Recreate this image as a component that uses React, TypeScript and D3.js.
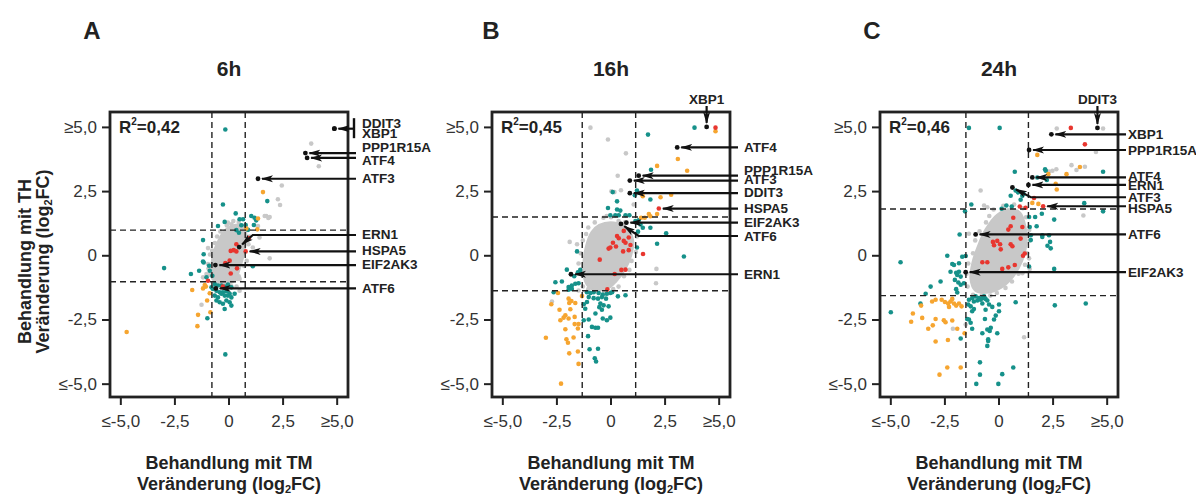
import * as d3 from "d3";

type P = [number, number];
type Gene = { name: string; x: number; y: number; ly?: number; bendX?: number; dot?: boolean; top?: boolean; noArrow?: boolean };

const AXIS_TICKS = [-5, -2.5, 0, 2.5, 5];
const TICK_LABELS = ["\u2264-5,0", "-2,5", "0", "2,5", "\u22655,0"];

const panelLetters = ["A", "B", "C"];
const panelTitles = ["6h", "16h", "24h"];
const rSquared = ["0,42", "0,45", "0,46"];
const cutX: P[] = [[-0.79, 0.75], [-1.33, 1.14], [-1.53, 1.36]];
const cutY: P[] = [[1.0, -1.01], [1.51, -1.36], [1.82, -1.55]];

// dense centre of each gray cloud (outline)
const coreA: P[] = [[-0.5, 0.58], [-0.2, 1.0], [0.26, 1.2], [0.68, 1.2], [0.8, 0.85], [0.72, 0.19], [0.5, -0.5], [0.24, -1.0], [-0.34, -1.06], [-0.76, -0.92], [-0.8, -0.27], [-0.66, 0.27]];
const coreB: P[] = [[-0.55, 1.2], [0.13, 1.3], [0.7, 1.1], [1.02, 0.62], [0.93, 0], [0.68, -0.5], [0.24, -1.0], [-0.2, -1.3], [-0.9, -1.3], [-1.2, -1.0], [-1.28, -0.39], [-1.15, 0.39], [-0.9, 0.92]];
const coreC: P[] = [[-0.09, 1.6], [0.56, 1.82], [0.98, 1.68], [1.22, 1.15], [1.26, 0.41], [1.05, -0.24], [0.65, -0.82], [0.09, -1.25], [-0.56, -1.44], [-1.1, -1.36], [-1.32, -0.9], [-1.22, -0.24], [-0.96, 0.41], [-0.62, 1.03]];

const grayA: P[] = [[3.8, 4.37], [4.15, 3.49], [2.44, 2.74], [2.26, 2.2], [2.36, 1.98], [1.72, 1.55], [1.82, 1.47], [1.65, 1.55], [1.88, 1.51], [1.34, 1.16], [1.88, -0.1], [-1.27, -1.91], [0.49, -1.36], [0.41, -0.9], [-0.05, 1.29], [0.11, 1.23], [-0.97, 0.3], [-1.2, -0.84], [-1.04, -0.71], [-0.97, -0.32], [0.49, -0.9], [1.1, 0.32], [1.41, 0.71], [-0.55, 0.75], [-0.4, 0.95], [-0.1, 1.18], [0.2, 1.35], [0.45, 1.32], [0.75, 1.15], [0.95, 0.75], [0.9, 0.45], [0.82, -0.2], [0.7, -0.4], [0.45, -0.8], [0.35, -1.2], [0.1, -1.18], [-0.2, -1.25], [-0.55, -1.05], [-0.88, -0.75], [-0.95, -0.5], [-0.88, 0.05], [-0.78, 0.2], [-0.65, 0.5]];
const tealA: P[] = [[-0.17, 4.92], [-0.28, 2.0], [1.77, 2.13], [0.31, 1.65], [-0.2, 1.32], [-0.51, 1.16], [0.49, 1.42], [0.65, 1.42], [1.03, 1.55], [1.18, 1.48], [1.26, 1.38], [1.15, 1.2], [0.77, 1.2], [0.57, 1.19], [0.34, 1.0], [0.88, 1.01], [0.46, 0.9], [-1.2, 0.61], [-1.17, 0.06], [-1.17, -0.26], [-1.2, -0.22], [-1.38, -0.58], [-1.76, -0.71], [-3.0, -0.48], [-0.92, -0.39], [-0.89, -0.58], [-1.04, -0.84], [-0.77, -0.78], [1.1, -0.41], [-0.66, -1.1], [-0.51, -1.16], [-0.35, -1.16], [-0.2, -1.2], [-0.05, -1.12], [0.11, -1.23], [-0.74, -1.29], [-0.58, -1.36], [-0.43, -1.42], [-0.28, -1.42], [-0.12, -1.38], [0.03, -1.48], [-0.66, -1.55], [-0.51, -1.62], [-0.35, -1.48], [-0.2, -1.55], [-0.05, -1.55], [0.11, -1.62], [0.26, -1.48], [-0.58, -1.74], [-0.43, -1.81], [-0.28, -1.87], [-0.12, -1.74], [0.03, -1.81], [0.11, -1.94], [-0.2, -2.07], [-0.81, -1.23], [-1.0, -2.43], [-0.17, -3.84]];
const orangeA: P[] = [[1.57, 2.48], [1.34, 1.45], [1.31, 1.03], [0.8, 1.06], [-1.12, -1.14], [-1.2, -1.27], [-1.07, -1.2], [-1.7, -1.33], [-0.89, -1.46], [-1.01, -1.74], [-0.86, -2.2], [-1.43, -2.3], [-1.46, -2.74], [-4.73, -2.97]];
const redA: P[] = [[0.34, 0.45], [0.22, 0.22], [0.34, 0.17], [0.08, 0.19], [0.77, 0.17], [0.92, 0.69], [0.03, -0.19], [0.37, -0.49], [-0.97, -0.97], [-0.28, -1.2], [0.08, -0.69], [-0.17, -0.28]];

const grayB: P[] = [[-0.95, 4.99], [-0.14, 4.53], [0.69, 3.99], [0.31, 3.12], [0.02, 2.51], [0.16, 2.48], [0.46, 2.55], [1.05, 2.0], [-1.91, 0.54], [-1.57, 0.45], [2.1, -0.51], [2.08, -1.07], [-2.73, -1.78], [-1.05, 1.1], [-0.75, 1.3], [-0.35, 1.48], [0.0, 1.5], [0.35, 1.35], [0.65, 1.3], [0.95, 0.95], [1.2, 0.75], [1.15, 0.15], [0.95, -0.2], [0.85, -0.55], [0.6, -0.8], [0.35, -1.2], [0.1, -1.3], [-0.3, -1.5], [-0.6, -1.42], [-1.05, -1.3], [-1.3, -1.2], [-1.42, -0.6], [-1.5, -0.3], [-1.4, 0.1], [-1.3, 0.6], [-1.15, 0.85], [-0.2, 1.55], [-1.5, -1.35]];
const tealB: P[] = [[3.86, 4.99], [1.71, 4.72], [1.85, 3.35], [0.08, 2.48], [1.2, 2.54], [1.1, 2.36], [0.28, 2.12], [-0.14, 1.86], [0.28, 1.8], [1.82, 2.19], [0.43, 1.76], [-0.03, 1.58], [0.2, 1.58], [0.36, 1.58], [0.67, 1.58], [0.85, 1.58], [1.13, 1.35], [1.28, 1.38], [1.36, 1.22], [1.47, 1.09], [1.25, 0.94], [1.82, 1.09], [2.55, 0.88], [2.13, 0.47], [3.37, -0.03], [1.2, 0.32], [-1.57, 0.17], [-2.04, -0.54], [-1.7, -0.8], [-1.53, -0.64], [-1.42, -0.55], [-1.34, -0.71], [-2.57, -1.03], [-2.27, -1.0], [-1.96, -1.22], [-1.81, -1.16], [-1.65, -1.09], [-1.5, -1.07], [-1.81, -1.29], [-1.96, -1.32], [-2.65, -1.42], [-1.11, -1.42], [-0.95, -1.45], [-0.8, -1.42], [-0.57, -1.45], [-0.38, -1.51], [-0.19, -1.48], [-0.03, -1.45], [-1.03, -1.61], [-0.8, -1.65], [-0.6, -1.67], [-0.42, -1.61], [-0.23, -1.67], [0.32, -1.58], [0.67, -1.54], [-1.26, -1.89], [-1.11, -1.8], [-1.19, -2.06], [-0.49, -1.86], [-0.34, -1.93], [-0.11, -1.97], [-0.72, -2.25], [-0.54, -2.0], [-0.42, -2.1], [-1.26, -2.51], [-1.03, -2.48], [-0.88, -2.77], [-0.72, -2.8], [-0.6, -2.8], [-0.38, -2.44], [-0.19, -2.51], [-0.03, -2.41], [-1.06, -3.13], [-0.99, -3.64], [-0.6, -3.62], [-0.75, -3.99], [-0.69, -4.12], [0.05, -1.42]];
const orangeB: P[] = [[4.83, 4.85], [3.09, 3.77], [3.52, 3.31], [2.13, 3.5], [1.47, 2.32], [1.44, 2.42], [2.29, 2.28], [2.78, 2.38], [1.75, 1.63], [1.82, 1.54], [2.13, 1.63], [1.56, 1.48], [1.39, 1.48], [-2.45, -1.45], [-1.34, -1.57], [-2.76, -1.89], [-1.96, -1.67], [-1.83, -1.76], [-1.93, -1.84], [-1.65, -1.84], [-2.38, -2.1], [-1.88, -2.08], [-2.11, -2.32], [-2.19, -2.41], [-2.34, -2.51], [-1.96, -2.44], [-1.68, -2.38], [-1.68, -2.66], [-1.5, -2.66], [-1.53, -2.83], [-2.11, -2.86], [-3.01, -3.19], [-2.06, -3.25], [-1.99, -3.39], [-1.73, -3.18], [-1.93, -3.8], [-1.53, -3.73], [-1.5, -4.21], [-2.31, -4.98]];
const redB: P[] = [[4.83, 4.99], [2.21, 1.84], [1.48, 0.07], [0.28, 0.77], [0.36, 0.68], [0.59, 0.58], [0.67, 0.51], [0.82, 0.71], [0.9, 0.42], [0.09, 0.51], [-0.03, 0.32], [-0.11, 0.28], [0.23, 0.36], [0.56, 0.17], [0.82, 0.22], [-0.52, -0.15], [0.17, -0.71], [0.48, -0.55], [0.67, -0.54], [-0.17, -1.31], [0.59, 0.97]];

const grayC: P[] = [[2.67, 4.96], [4.81, 4.96], [4.48, 4.04], [3.97, 3.47], [3.58, 3.34], [3.35, 3.53], [2.65, 3.37], [2.47, 3.31], [2.31, 3.28], [-0.85, 2.54], [3.9, 1.57], [-0.69, 1.96], [-0.54, 1.89], [-1.39, 0.86], [1.42, -0.51], [1.16, -3.17], [-2.13, -2.84], [-1.54, -2.68], [1.39, -0.1], [1.08, -0.68], [-0.25, 1.8], [0.2, 1.95], [0.7, 2.0], [1.1, 1.85], [1.25, 1.5], [1.4, 1.0], [1.42, 0.6], [1.3, 0.1], [1.2, -0.35], [0.9, -0.7], [0.6, -1.0], [0.3, -1.25], [-0.1, -1.45], [-0.4, -1.55], [-0.8, -1.55], [-1.2, -1.52], [-1.45, -1.2], [-1.5, -0.7], [-1.42, -0.3], [-1.2, 0.1], [-1.1, 0.6], [-0.9, 0.95], [-0.6, 1.3], [-0.45, 1.55]];
const tealC: P[] = [[-1.39, 4.98], [0.03, 4.98], [0.73, 3.27], [2.13, 3.37], [2.16, 3.31], [1.77, 3.05], [2.21, 2.95], [4.81, 3.27], [0.88, 2.47], [1.08, 2.34], [1.13, 2.41], [0.54, 2.34], [1.0, 2.18], [0.59, 1.92], [0.34, 1.96], [0.12, 1.83], [0.77, 2.54], [-1.28, 2.0], [-1.57, 1.73], [3.94, 2.05], [4.81, 1.73], [1.39, 1.51], [1.42, 1.12], [1.67, 1.51], [1.98, 1.64], [2.55, 1.41], [1.74, 1.15], [2.0, 0.8], [2.31, 0.8], [2.24, 0.39], [2.39, 0.29], [2.55, -0.51], [-1.82, 0.83], [-2.39, 0.0], [-1.7, -0.04], [-4.55, -0.25], [1.47, 0.61], [-1.54, -0.01], [-2.16, -0.32], [-1.85, -0.29], [-2.08, -0.36], [-2.24, -0.62], [-1.98, -0.66], [-1.85, -0.62], [-1.93, -0.75], [-1.77, -0.81], [-2.04, -0.94], [-1.88, -1.04], [-1.77, -1.13], [-1.62, -1.07], [-2.7, -1.0], [-3.16, -1.2], [-3.39, -1.48], [-1.98, -1.3], [-1.93, -1.43], [-3.63, -1.86], [-5.0, -2.2], [1.39, -0.42], [1.47, 0.8], [2.0, 0.73], [2.36, 0.54], [-1.39, -1.71], [-1.24, -1.65], [-1.08, -1.58], [-0.93, -1.65], [-0.77, -1.65], [-0.69, -1.58], [-0.62, -1.68], [-0.54, -1.74], [-1.16, -1.78], [-1.0, -1.74], [-0.85, -1.71], [-1.42, -1.9], [-1.31, -1.97], [-1.16, -2.07], [-1.24, -2.16], [-0.77, -1.86], [-0.46, -1.9], [-0.31, -1.99], [0, -1.9], [0.77, -1.81], [0, -2.16], [-0.15, -2.33], [-0.23, -2.48], [-0.62, -2.1], [-0.65, -2.46], [-1.47, -2.46], [-1.39, -2.48], [-1.31, -2.61], [-1.24, -2.84], [-0.77, -3.02], [-0.54, -2.87], [-0.38, -2.8], [-0.43, -2.93], [-0.5, -3.25], [-0.5, -3.32], [-0.54, -3.51], [-0.08, -3.02], [-1.77, -3.22], [-0.88, -4.15], [-0.88, -4.63], [-1.05, -4.99], [-0.03, -4.99], [0.15, -4.61], [0.66, -4.35], [2.58, -1.93], [4.01, -1.86]];
const orangeC: P[] = [[1.77, 3.93], [3.12, 3.18], [3.74, 3.46], [2.67, 2.58], [2.62, 2.8], [1.54, 2.06], [1.82, 2.02], [2.28, 3.18], [-3.09, -1.78], [-2.93, -1.71], [-2.65, -1.71], [-2.5, -1.8], [-2.35, -1.86], [-2.24, -1.78], [-2.16, -1.68], [-2.08, -1.86], [-1.98, -1.94], [-1.85, -1.86], [-2.31, -1.99], [-1.73, -1.97], [-3.98, -2.25], [-3.6, -1.94], [-4.06, -2.57], [-2.93, -2.46], [-2.55, -2.51], [-2.47, -2.59], [-2.16, -2.52], [-1.93, -2.84], [-3.06, -2.71], [-3.27, -2.84], [-2.93, -3.34], [-2.36, -3.28], [-1.59, -3.02], [-2.39, -4.35], [-1.77, -4.35], [-2.75, -4.63], [-3.55, -2.42]];
const redC: P[] = [[3.32, 4.98], [3.97, 4.34], [2.04, 1.93], [1.62, 2.25], [0.96, 1.92], [1.23, 1.87], [0.66, 1.48], [0.54, 1.15], [0.43, 1.02], [1.08, 1.12], [-0.28, 0.54], [-0.08, 0.58], [0.05, 0.45], [-0.23, 0.41], [0.08, 0.25], [0.54, 0.45], [0.62, 0.37], [1.0, 0.67], [1.19, 0.09], [1.11, 0.0], [-0.77, -0.25], [-0.54, -0.25], [0.15, -0.51], [0.43, -0.45], [0.73, -0.36]];

const genesA: Gene[] = [
  { name: "DDIT3", x: 4.87, y: 4.95, ly: 5.17, noArrow: true },
  { name: "XBP1", x: 4.87, y: 4.95, ly: 4.78, noArrow: true },
  { name: "PPP1R15A", x: 3.53, y: 4.0, ly: 4.2 },
  { name: "ATF4", x: 3.61, y: 3.81, ly: 3.71 },
  { name: "ATF3", x: 1.34, y: 3.0, ly: 3.0 },
  { name: "ERN1", x: 0.47, y: 0.34, ly: 0.81, bendX: 1.1 },
  { name: "HSPA5", x: 0.77, y: 0.17, ly: 0.19, dot: false },
  { name: "EIF2AK3", x: -0.63, y: -0.36, ly: -0.33 },
  { name: "ATF6", x: -0.61, y: -1.27, ly: -1.29 },
];
// DDIT3 and XBP1 share one point in A: [x, y, bracket top, bracket bottom]
const bracketA = [4.87, 4.95, 5.36, 4.58];

const genesB: Gene[] = [
  { name: "XBP1", x: 4.42, y: 5.02, top: true },
  { name: "ATF4", x: 3.06, y: 4.22, ly: 4.22 },
  { name: "PPP1R15A", x: 1.28, y: 3.12, ly: 3.34 },
  { name: "ATF3", x: 0.87, y: 2.93, ly: 2.99 },
  { name: "DDIT3", x: 0.87, y: 2.44, ly: 2.45 },
  { name: "HSPA5", x: 2.21, y: 1.84, ly: 1.84, dot: false },
  { name: "EIF2AK3", x: 0.71, y: 1.29, ly: 1.29 },
  { name: "ATF6", x: 0.46, y: 1.24, ly: 0.77, bendX: 1.28 },
  { name: "ERN1", x: -1.85, y: -0.72, ly: -0.72 },
];

const genesC: Gene[] = [
  { name: "DDIT3", x: 4.55, y: 4.98, top: true },
  { name: "XBP1", x: 2.42, y: 4.73, ly: 4.73 },
  { name: "PPP1R15A", x: 1.39, y: 4.12, ly: 4.12 },
  { name: "ATF4", x: 1.54, y: 3.05, ly: 3.1 },
  { name: "ERN1", x: 1.36, y: 2.76, ly: 2.72 },
  { name: "ATF3", x: 0.62, y: 2.66, ly: 2.28, bendX: 1.47 },
  { name: "HSPA5", x: 2.04, y: 1.93, ly: 1.83, dot: false },
  { name: "ATF6", x: -1.08, y: 0.83, ly: 0.83 },
  { name: "EIF2AK3", x: -1.54, y: -0.64, ly: -0.64 },
];

const GRAY = "#c8c8c8";
const TEAL = "#16918a";
const ORANGE = "#f6a530";
const RED = "#e8362f";
const INK = "#222";
const FONT = "'Liberation Sans', Arial, sans-serif";

const panels = [
  { core: coreA, gray: grayA, teal: tealA, orange: orangeA, red: redA, genes: genesA },
  { core: coreB, gray: grayB, teal: tealB, orange: orangeB, red: redB, genes: genesB },
  { core: coreC, gray: grayC, teal: tealC, orange: orangeC, red: redC, genes: genesC },
];

const LEFTS = [110, 492, 880];
const LETTER_X = [92, 491, 872];
const LABEL_GAP = [14, 14, 10];
const BOX_W = 238;
const TOP = 112;
const BOTTOM = 397;

function Panel({ i }: { i: number }) {
  const d = panels[i];
  const left = LEFTS[i];
  const right = left + BOX_W;
  const sx = d3.scaleLinear().domain([-5.5, 5.5]).range([left, right]);
  const sy = d3.scaleLinear().domain([-5.5, 5.6]).range([BOTTOM, TOP]);
  const cx = sx(0);
  const coreLine = d3.line<P>().x((p) => sx(p[0])).y((p) => sy(p[1])).curve(d3.curveCatmullRomClosed);
  const dots = (pts: P[], fill: string, key: string) =>
    pts.map((p, k) => <circle key={key + k} cx={sx(p[0])} cy={sy(p[1])} r={2.3} fill={fill} />);
  const arrowX = right + 8;
  const labelX = right + LABEL_GAP[i];

  return (
    <g>
      <text x={LETTER_X[i]} y={30} fontSize={24} fontWeight="bold" fill={INK} textAnchor="middle" dominantBaseline="central">{panelLetters[i]}</text>
      <text x={cx} y={68} fontSize={21} fontWeight="bold" fill={INK} textAnchor="middle" dominantBaseline="central">{panelTitles[i]}</text>

      <path d={coreLine(d.core) || ""} fill={GRAY} stroke={GRAY} strokeWidth={2} />
      {dots(d.gray, GRAY, "g")}
      {dots(d.teal, TEAL, "t")}
      {dots(d.orange, ORANGE, "o")}
      {dots(d.red, RED, "r")}

      {cutX[i].map((v, k) => (
        <line key={"vx" + k} x1={sx(v)} x2={sx(v)} y1={TOP} y2={BOTTOM} stroke={INK} strokeWidth={1.4} strokeDasharray="6,4" />
      ))}
      {cutY[i].map((v, k) => (
        <line key={"hy" + k} x1={left} x2={right} y1={sy(v)} y2={sy(v)} stroke={INK} strokeWidth={1.4} strokeDasharray="6,4" />
      ))}

      {d.genes.filter((g) => g.dot !== false).map((g, k) => (
        <circle key={"b" + k} cx={sx(g.x)} cy={sy(g.y)} r={2.4} fill="#111" />
      ))}

      <rect x={left} y={TOP} width={BOX_W} height={BOTTOM - TOP} fill="none" stroke={INK} strokeWidth={2.8} />

      {AXIS_TICKS.map((t, k) => (
        <g key={"xt" + k}>
          <line x1={sx(t)} x2={sx(t)} y1={BOTTOM} y2={BOTTOM + 8} stroke={INK} strokeWidth={2} />
          <text x={sx(t)} y={421} fontSize={17} fill="#333" textAnchor="middle" dominantBaseline="central">{TICK_LABELS[k]}</text>
          <line x1={left - 8} x2={left} y1={sy(t)} y2={sy(t)} stroke={INK} strokeWidth={2} />
          <text x={left - 13} y={sy(t)} fontSize={17} fill="#333" textAnchor="end" dominantBaseline="central">{TICK_LABELS[k]}</text>
        </g>
      ))}

      <text x={left + 9} y={sy(5)} fontSize={17} fontWeight="bold" fill={INK} dominantBaseline="central">
        R<tspan fontSize={10} dy={-6}>2</tspan><tspan dy={6}>={rSquared[i]}</tspan>
      </text>

      <text x={cx} y={463} fontSize={18} fontWeight="bold" fill={INK} textAnchor="middle" dominantBaseline="central">Behandlung mit TM</text>
      <text x={cx} y={484} fontSize={18} fontWeight="bold" fill={INK} textAnchor="middle" dominantBaseline="central">
        Veränderung (log<tspan fontSize={11} dy={5}>2</tspan><tspan dy={-5}>FC)</tspan>
      </text>

      {d.genes.map((g, k) => {
        const px = sx(g.x);
        const py = sy(g.y);
        if (g.top) {
          return (
            <g key={"a" + k}>
              <text x={px} y={TOP - 13} fontSize={13.5} fontWeight="bold" fill={INK} textAnchor="middle" dominantBaseline="central">{g.name}</text>
              <line x1={px} x2={px} y1={TOP - 6} y2={py - 4} stroke="#111" strokeWidth={2.2} markerEnd="url(#arr)" />
            </g>
          );
        }
        const ly = sy(g.ly ?? g.y);
        let path: string;
        if (g.bendX !== undefined) {
          const bx = sx(g.bendX);
          const dx = px - bx, dy = py - ly;
          const len = Math.hypot(dx, dy);
          path = `M${arrowX},${ly}L${bx},${ly}L${px - (dx / len) * 4},${py - (dy / len) * 4}`;
        } else {
          path = `M${arrowX},${py}L${px + 4},${py}`;
        }
        return (
          <g key={"a" + k}>
            {!g.noArrow && <path d={path} fill="none" stroke="#111" strokeWidth={2.2} markerEnd="url(#arr)" />}
            <text x={labelX} y={ly} fontSize={13.5} fontWeight="bold" fill={INK} dominantBaseline="central">{g.name}</text>
          </g>
        );
      })}

      {i === 0 && (
        <g>
          <line x1={right + 6} x2={right + 6} y1={sy(bracketA[2])} y2={sy(bracketA[3])} stroke="#111" strokeWidth={2.4} />
          <line x1={right + 6} x2={sx(bracketA[0]) + 4} y1={sy(bracketA[1])} y2={sy(bracketA[1])} stroke="#111" strokeWidth={2.2} markerEnd="url(#arr)" />
        </g>
      )}
    </g>
  );
}

export default function App() {
  const midY = (TOP + BOTTOM) / 2 + 7;
  return (
    <svg width={1196} height={494} style={{ position: "absolute", left: 0, top: 0, background: "#fff" }} fontFamily={FONT}>
      <defs>
        <marker id="arr" viewBox="0 0 12 8" refX={11} refY={4} markerWidth={12} markerHeight={8} markerUnits="userSpaceOnUse" orient="auto">
          <path d="M0,0.5 L12,4 L0,7.5 L3,4 Z" fill="#111" />
        </marker>
      </defs>
      {panels.map((_, i) => <Panel key={i} i={i} />)}
      <g transform={`translate(25,${midY}) rotate(-90)`}>
        <text x={0} y={0} fontSize={18} fontWeight="bold" fill={INK} textAnchor="middle" dominantBaseline="central">Behandlung mit TH</text>
      </g>
      <g transform={`translate(43,${midY}) rotate(-90)`}>
        <text x={0} y={0} fontSize={18} fontWeight="bold" fill={INK} textAnchor="middle" dominantBaseline="central">
          Veränderung (log<tspan fontSize={11} dy={5}>2</tspan><tspan dy={-5}>FC)</tspan>
        </text>
      </g>
    </svg>
  );
}
